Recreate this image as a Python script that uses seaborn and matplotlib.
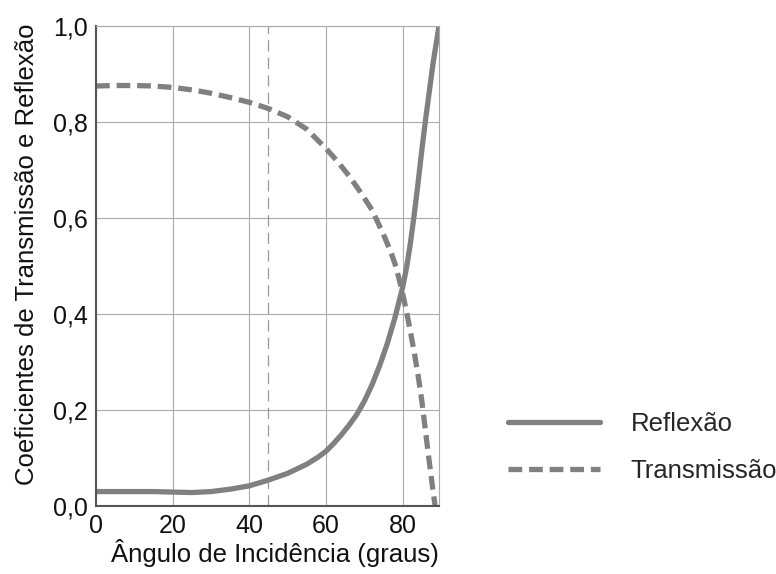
import numpy as np
import pandas as pd
import seaborn as sns
from matplotlib import pyplot as plt

# valores
angulo_r = [0, 5, 10, 15, 20, 25, 30, 35, 40, 45, 50, 55, 58, 60, 62, 64, 66, 68, 70, 72, 74, 76,
            78, 80, 81, 82, 83, 84, 85, 86, 87, 88, 89.5]
reflexao = [0.030, 0.030, 0.030, 0.030, 0.029, 0.028, 0.030, 0.035, 0.042, 0.054, 0.068, 0.087,
            0.102, 0.114, 0.130, 0.148, 0.168, 0.190, 0.218, 0.252, 0.292, 0.338, 0.392, 0.455,
            0.495, 0.545, 0.605, 0.670, 0.740, 0.805, 0.865, 0.925, 1.000]

angulo_t = [0, 5, 10, 15, 20, 25, 30, 35, 40, 45, 50, 55, 60, 63, 66, 69, 72, 75, 77, 78, 79,
            80, 81, 82, 83, 84, 85, 86, 87, 88, 88.5]
transmissao = [0.875, 0.876, 0.876, 0.875, 0.872, 0.867, 0.860, 0.851, 0.841, 0.828, 0.811,
               0.785, 0.745, 0.718, 0.688, 0.654, 0.617, 0.566, 0.528, 0.505, 0.476, 0.443,
               0.406, 0.365, 0.322, 0.275, 0.220, 0.155, 0.090, 0.028, 0.000]

xticks = [0, 20, 40, 60, 80]
yticks = [0.0, 0.2, 0.4, 0.6, 0.8, 1.0]
angulo_ref = 45

sns.set_style("white")
plt.rcParams['font.family'] = ['Liberation Sans', 'DejaVu Sans']

df_r = pd.DataFrame({'angulo': angulo_r, 'valor': reflexao})
df_t = pd.DataFrame({'angulo': angulo_t, 'valor': transmissao})

fig = plt.figure(figsize=(7.76, 5.74), dpi=100)
ax = fig.add_axes([0.1237, 0.1185, 0.4420, 0.8362])

cor = '#808080'
sns.lineplot(data=df_r, x='angulo', y='valor', ax=ax, color=cor, linewidth=3.8,
             label='Reflexão')
sns.lineplot(data=df_t, x='angulo', y='valor', ax=ax, color=cor, linewidth=3.8,
             dashes=False, label='Transmissão')
ax.lines[1].set_dashes((2.6, 1.3))

ax.axvline(angulo_ref, color='#999999', linewidth=0.9, dashes=(9, 5), zorder=1)

ax.set_xlim(0, 89.5)
ax.set_ylim(0, 1.0)
ax.set_xticks(xticks)
ax.set_yticks(yticks)
ax.set_yticklabels([f'{v:.1f}'.replace('.', ',') for v in yticks])
ax.grid(True, color='#aaaaaa', linewidth=0.8)
ax.set_axisbelow(True)

for s in ['top', 'right']:
    ax.spines[s].set_color('#aaaaaa')
    ax.spines[s].set_linewidth(0.8)
for s in ['left', 'bottom']:
    ax.spines[s].set_color('#555555')
    ax.spines[s].set_linewidth(1.5)

ax.tick_params(axis='both', labelsize=18, colors='#111111')
ax.tick_params(axis='y', length=4, width=1, color='#777777', pad=2)
ax.tick_params(axis='x', length=3, width=1, color='#777777', pad=3)

ax.set_xlabel('Ângulo de Incidência (graus)', fontsize=18.5, color='#111111')
ax.set_ylabel('Coeficientes de Transmissão e Reflexão', fontsize=18.5, color='#111111')
ax.xaxis.set_label_coords(0.522, -0.068)
ax.yaxis.set_label_coords(-0.165, 0.525)

ax.legend_.remove()
handles, labels = ax.get_legend_handles_labels()
fig.legend(handles, labels, loc='upper left', bbox_to_anchor=(0.654, 0.283),
           frameon=False, fontsize=18.5, handlelength=3.6, handletextpad=1.2,
           labelspacing=0.93, borderpad=0, borderaxespad=0)

fig.savefig('out.png', dpi=100)
